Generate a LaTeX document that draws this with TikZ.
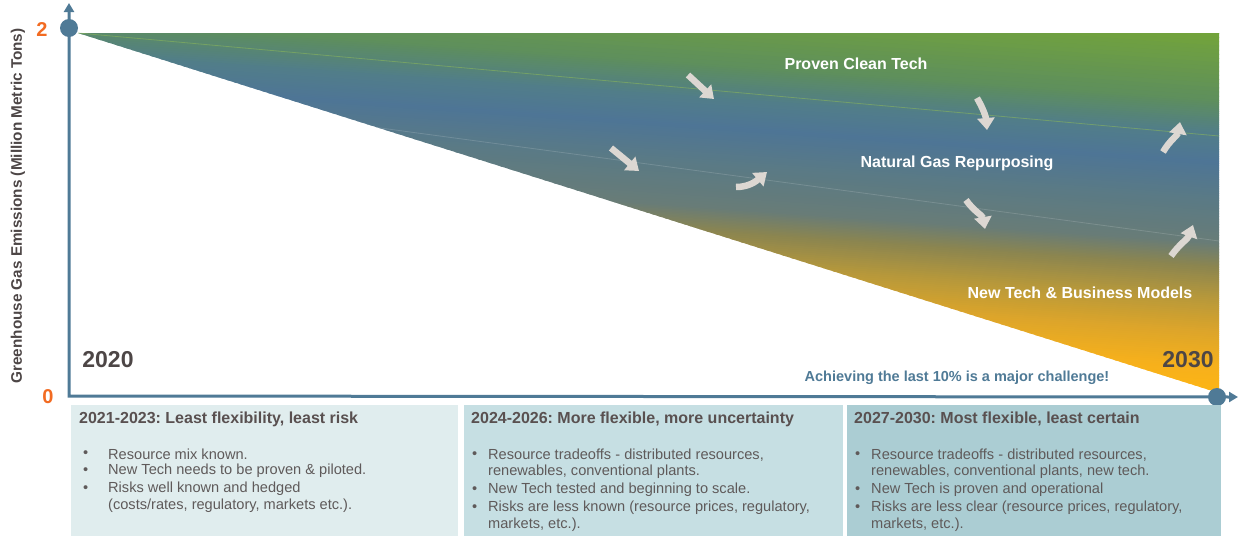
\documentclass[tikz,border=0pt]{standalone}
\usepackage{fontspec}
\setmainfont{Liberation Sans}
\usetikzlibrary{arrows.meta}
\frenchspacing
\definecolor{axisblue}{HTML}{4F7A96}
\definecolor{numorange}{HTML}{F26B22}
\definecolor{darktxt}{HTML}{4D4646}
\definecolor{titletxt}{HTML}{595050}
\definecolor{bullettxt}{HTML}{5F5A5A}
\definecolor{arrowgray}{HTML}{DCD7D2}
\definecolor{boxA}{HTML}{E0EDEE}
\definecolor{boxB}{HTML}{C6DFE3}
\definecolor{boxC}{HTML}{ABCDD3}
\definecolor{linegreen}{HTML}{8DB85A}
\definecolor{g01}{HTML}{FDB515}
\definecolor{g02}{HTML}{F6B01C}
\definecolor{g03}{HTML}{DDA52A}
\definecolor{g04}{HTML}{B8993A}
\definecolor{g05}{HTML}{8B8550}
\definecolor{g06}{HTML}{687C78}
\definecolor{g07}{HTML}{5A7A85}
\definecolor{g08}{HTML}{4E7596}
\definecolor{g09}{HTML}{517D8A}
\definecolor{g10}{HTML}{5E8F5C}
\definecolor{g11}{HTML}{73A43A}
\begin{document}
\begin{tikzpicture}[x=1pt,y=-1pt,
  axisline/.style={draw=axisblue, line width=3pt},
  dot/.style={circle, fill=axisblue, minimum size=18pt, inner sep=0pt},
  num/.style={text=numorange, font=\fontsize{20}{22}\selectfont\bfseries},
  year/.style={text=darktxt, font=\fontsize{23}{26}\selectfont\bfseries},
  band/.style={text=white, font=\fontsize{16}{18}\selectfont\bfseries},
  flow/.style={draw=arrowgray, line width=6.5pt, -{Triangle[width=17pt,length=12pt]}},
  boxtitle/.style={anchor=west, text=titletxt, font=\fontsize{16}{18}\selectfont\bfseries, inner sep=0pt},
  bul/.style={anchor=west, text=bullettxt, font=\fontsize{14.6}{17}\selectfont, inner sep=0pt}]
\useasboundingbox (0,0) rectangle (1238,536);
% gradient wedge: colour bands tilted with slope 0.07
\begin{scope}
\clip (78,33) -- (1219,33) -- (1219,393) -- cycle;
\foreach \ta/\tb/\ca/\cb in {20/33/g11/g11, 33/100/g11/g10, 100/135/g10/g09, 135/163/g09/g08, 163/200/g08/g07, 200/243/g07/g06, 243/267/g06/g05, 267/300/g05/g04, 300/333/g04/g03, 333/367/g03/g02, 367/393/g02/g01, 393/400/g01/g01}{
  \foreach \k in {0,...,15}{
    \pgfmathsetmacro\ya{\ta+(\tb-\ta)*\k/16}
    \pgfmathsetmacro\yb{\ta+(\tb-\ta)*(\k+1)/16+0.8}
    \pgfmathsetmacro\pc{100-100*(\k+0.5)/16}
    \colorlet{stripc}{\ca!\pc!\cb}
    \fill[stripc] (60,\ya-81.1) -- (1230,\ya+0.8) -- (1230,\yb+0.8) -- (60,\yb-81.1) -- cycle;
  }
}
\end{scope}
\draw[draw=linegreen, opacity=0.55, line width=0.8pt] (78,33) -- (1219,136);
\draw[draw=white, opacity=0.15, line width=0.8pt] (373,127) -- (1219,241);
% axes
\coordinate (origin) at (69,396);
\coordinate (ytip) at (69,3);
\coordinate (xtip) at (1238,397);
\draw[axisline, {Triangle[width=10pt,length=9pt]}-{Triangle[width=10pt,length=9pt]}] (ytip) -- (origin) -- (xtip);
\node[dot] (start) at (69,28) {};
\node[dot] (finish) at (1217,397) {};
% axis labels
\node[num] (ytop) at (42,30) {2};
\node[num] (yzero) at (48,397) {0};
\node[rotate=90, text=darktxt, font=\fontsize{15.3}{17}\selectfont\bfseries] (ylabel) at (18,206) {Greenhouse Gas Emissions (Million Metric Tons)};
\node[year] (y2020) at (108,360) {2020};
\node[year] (y2030) at (1188,360) {2030};
% band labels
\node[band] (clean) at (856,64) {Proven Clean Tech};
\node[band] (gas) at (957,163) {Natural Gas Repurposing};
\node[band] (newtech) at (1080,293) {New Tech \& Business Models};
\node[text=axisblue, font=\fontsize{14.5}{16}\selectfont\bfseries] (challenge) at (957,378) {Achieving the last 10\% is a major challenge!};
% flow arrows
\coordinate (a1s) at (688,75); \coordinate (a1e) at (714,99);
\coordinate (a2s) at (977,98); \coordinate (a2e) at (987,130);
\coordinate (a3s) at (1163,152); \coordinate (a3e) at (1180,122);
\coordinate (a4s) at (611,148); \coordinate (a4e) at (639,171);
\coordinate (a5s) at (736,187); \coordinate (a5e) at (767,172);
\coordinate (a6s) at (966,200); \coordinate (a6e) at (985,229);
\coordinate (a7s) at (1171,256); \coordinate (a7e) at (1193,225);
\draw[flow] (a1s) -- (a1e);
\draw[flow] (a2s) to[out=-60, in=95] (a2e);
\draw[flow] (a3s) to[out=60, in=-100] (a3e);
\draw[flow] (a4s) -- (a4e);
\draw[flow] (a5s) to[out=0, in=-140] (a5e);
\draw[flow] (a6s) to[out=-55, in=100] (a6e);
\draw[flow] (a7s) to[out=55, in=-110] (a7e);
% panels
\fill[boxA] (71,405) rectangle (458,536);
\fill[boxB] (464,405) rectangle (843,536);
\fill[boxC] (847,405) rectangle (1221,536);
% panel 1
\node[boxtitle] (t1) at (79,419) {2021-2023: Least flexibility, least risk};
\node[bul] (b1a) at (83,454) {•}; \node[bul] (l1a) at (108,454) {Resource mix known.};
\node[bul] (b1b) at (83,471) {•}; \node[bul] (l1b) at (108,471) {New Tech needs to be proven \& piloted.};
\node[bul] (b1c) at (83,489) {•}; \node[bul] (l1c) at (108,489) {Risks well known and hedged};
\node[bul] (l1d) at (108,506) {(costs/rates, regulatory, markets etc.).};
% panel 2
\node[boxtitle] (t2) at (471,419) {2024-2026: More flexible, more uncertainty};
\node[bul] (b2a) at (472,455) {•}; \node[bul] (l2a) at (488,455) {Resource tradeoffs - distributed resources,};
\node[bul] (l2b) at (488,472) {renewables, conventional plants.};
\node[bul] (b2c) at (472,490) {•}; \node[bul] (l2c) at (488,490) {New Tech tested and beginning to scale.};
\node[bul] (b2d) at (472,508) {•}; \node[bul] (l2d) at (488,508) {Risks are less known (resource prices, regulatory,};
\node[bul] (l2e) at (488,525) {markets, etc.).};
% panel 3
\node[boxtitle] (t3) at (854,419) {2027-2030: Most flexible, least certain};
\node[bul] (b3a) at (855,455) {•}; \node[bul] (l3a) at (871,455) {Resource tradeoffs - distributed resources,};
\node[bul] (l3b) at (871,472) {renewables, conventional plants, new tech.};
\node[bul] (b3c) at (855,490) {•}; \node[bul] (l3c) at (871,490) {New Tech is proven and operational};
\node[bul] (b3d) at (855,508) {•}; \node[bul] (l3d) at (871,508) {Risks are less clear (resource prices, regulatory,};
\node[bul] (l3e) at (871,525) {markets, etc.).};
\end{tikzpicture}
\end{document}
